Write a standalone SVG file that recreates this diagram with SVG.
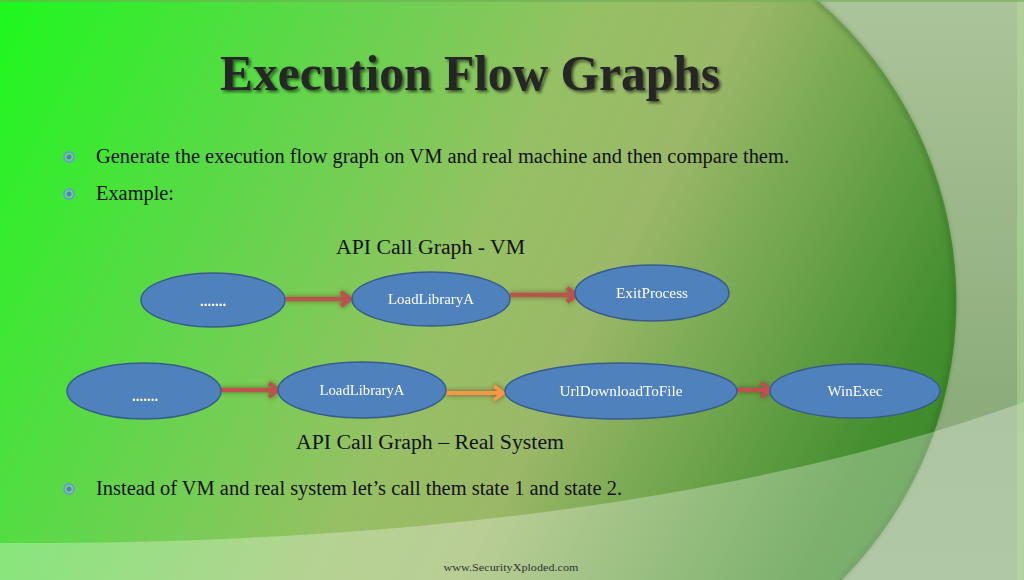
<svg xmlns="http://www.w3.org/2000/svg" width="1024" height="580" viewBox="0 0 1024 580">
  <defs>
    <linearGradient id="bg" gradientUnits="userSpaceOnUse" x1="0" y1="0" x2="1000" y2="500">
      <stop offset="0" stop-color="#1ef81e"/>
      <stop offset="0.25" stop-color="#5cd848"/>
      <stop offset="0.48" stop-color="#96c064"/>
      <stop offset="0.6" stop-color="#9bb868"/>
      <stop offset="0.74" stop-color="#6ea44c"/>
      <stop offset="0.88" stop-color="#438e2e"/>
      <stop offset="1" stop-color="#3a8628"/>
    </linearGradient>
    <linearGradient id="outside" gradientUnits="userSpaceOnUse" x1="0" y1="0" x2="0" y2="580">
      <stop offset="0" stop-color="#acc49a"/>
      <stop offset="0.7" stop-color="#8cad7b"/>
      <stop offset="1" stop-color="#8fb07e"/>
    </linearGradient>
    <filter id="soft" x="-20%" y="-20%" width="140%" height="140%">
      <feGaussianBlur stdDeviation="2"/>
    </filter>
    <filter id="tshadow" x="-5%" y="-20%" width="110%" height="140%">
      <feGaussianBlur in="SourceAlpha" stdDeviation="1.5"/>
      <feOffset dx="2" dy="2" result="b"/>
      <feFlood flood-color="#000" flood-opacity="0.6"/>
      <feComposite in2="b" operator="in"/>
      <feMerge><feMergeNode/><feMergeNode in="SourceGraphic"/></feMerge>
    </filter>
    <marker id="headRed" markerUnits="userSpaceOnUse" markerWidth="16" markerHeight="20" refX="12" refY="10" orient="auto">
      <polyline points="3,3 12,10 3,17" fill="none" stroke="#c0504d" stroke-width="4" stroke-linejoin="miter"/>
    </marker>
    <marker id="headOrange" markerUnits="userSpaceOnUse" markerWidth="16" markerHeight="20" refX="12" refY="10" orient="auto">
      <polyline points="3,3 12,10 3,17" fill="none" stroke="#f79646" stroke-width="4" stroke-linejoin="miter"/>
    </marker>
    <marker id="headShadow" markerUnits="userSpaceOnUse" markerWidth="16" markerHeight="20" refX="12" refY="10" orient="auto">
      <polyline points="3,3 12,10 3,17" fill="none" stroke="#5a4a20" stroke-width="6"/>
    </marker>
    <style>
      .body { font-family: "Liberation Serif", "Times New Roman", serif; fill: #111; }
      .node ellipse { fill: #4f81bd; stroke: #385d8a; stroke-width: 1.5; }
      .node text { font-family: "Liberation Serif", "DejaVu Serif", serif; fill: #fff; font-size: 14px; text-anchor: middle; }
      .shaft { fill: none; stroke-width: 4; }
      .shadow { fill: none; stroke: #5a4a20; stroke-width: 6; opacity: 0.55; }
      .bullet-ring { fill: #a9c8e8; fill-opacity: 0.35; stroke: #6a9bd0; stroke-width: 1.8; }
      .bullet-dot { fill: #4f81bd; }
    </style>
  </defs>

  <!-- background -->
  <rect x="0" y="0" width="1024" height="580" fill="url(#bg)"/>
  <!-- region outside the big arc (right side) -->
  <path d="M817,0 A396,396 0 0 1 842,580 L1024,580 L1024,0 Z" fill="url(#outside)"/>
  <!-- arc edge shadow -->
  <path d="M817,0 A396,396 0 0 1 842,580" fill="none" stroke="#2f5a20" stroke-width="4" opacity="0.35" filter="url(#soft)" transform="translate(-2,0)"/>
  <!-- bottom band -->
  <path d="M0,543 C400,545 750,500 1024,402 V580 H0 Z" fill="#ffffff" opacity="0.3"/>
  <!-- right strip and top line -->
  <rect x="1017" y="0" width="7" height="580" fill="#b8e0a0" opacity="0.45"/>
  <rect x="0" y="0" width="1024" height="2" fill="#6fae55" opacity="0.6"/>

  <!-- title -->
  <text x="220" y="90" class="body" font-size="50" font-weight="bold" textLength="500" lengthAdjust="spacingAndGlyphs" filter="url(#tshadow)" style="fill:#262626">Execution Flow Graphs</text>

  <!-- bullets -->
  <g id="bullet1">
    <circle cx="69" cy="157" r="5" class="bullet-ring"/>
    <circle cx="69" cy="157" r="2.5" class="bullet-dot"/>
    <text x="96" y="163" class="body" font-size="20" textLength="693" lengthAdjust="spacingAndGlyphs">Generate the execution flow graph on VM and real machine and then compare them.</text>
  </g>
  <g id="bullet2">
    <circle cx="69" cy="194" r="5" class="bullet-ring"/>
    <circle cx="69" cy="194" r="2.5" class="bullet-dot"/>
    <text x="96" y="200" class="body" font-size="20" textLength="78" lengthAdjust="spacingAndGlyphs">Example:</text>
  </g>
  <text x="336" y="254" class="body" font-size="20" textLength="189" lengthAdjust="spacingAndGlyphs">API Call Graph - VM</text>
  <text x="296" y="449" class="body" font-size="20" textLength="268" lengthAdjust="spacingAndGlyphs">API Call Graph – Real System</text>
  <g id="bullet3">
    <circle cx="69" cy="489" r="5" class="bullet-ring"/>
    <circle cx="69" cy="489" r="2.5" class="bullet-dot"/>
    <text x="96" y="495" class="body" font-size="20" textLength="526" lengthAdjust="spacingAndGlyphs">Instead of VM and real system let’s call them state 1 and state 2.</text>
  </g>
  <text x="511" y="571" class="body" font-size="11" text-anchor="middle" style="fill:#333" textLength="135" lengthAdjust="spacingAndGlyphs">www.SecurityXploded.com</text>

  <!-- connectors -->
  <g id="connectors">
    <g filter="url(#soft)">
      <line x1="285" y1="299" x2="350" y2="299" class="shadow" marker-end="url(#headShadow)"/>
      <line x1="510" y1="295" x2="576" y2="295" class="shadow" marker-end="url(#headShadow)"/>
      <line x1="220" y1="390" x2="278" y2="390" class="shadow" marker-end="url(#headShadow)"/>
      <line x1="446" y1="393" x2="503" y2="393" class="shadow" marker-end="url(#headShadow)"/>
      <line x1="737" y1="390" x2="770" y2="390" class="shadow" marker-end="url(#headShadow)"/>
    </g>
    <line x1="285" y1="299" x2="350" y2="299" class="shaft" stroke="#c0504d" marker-end="url(#headRed)"/>
    <line x1="510" y1="295" x2="576" y2="295" class="shaft" stroke="#c0504d" marker-end="url(#headRed)"/>
    <line x1="220" y1="390" x2="278" y2="390" class="shaft" stroke="#c0504d" marker-end="url(#headRed)"/>
    <line x1="446" y1="393" x2="503" y2="393" class="shaft" stroke="#f79646" marker-end="url(#headOrange)"/>
    <line x1="737" y1="390" x2="770" y2="390" class="shaft" stroke="#c0504d" marker-end="url(#headRed)"/>
  </g>

  <!-- nodes row 1 (VM) -->
  <g id="vm-start" class="node">
    <ellipse cx="213" cy="300" rx="72" ry="27"/>
    <text x="213" y="306" font-weight="bold" style="font-size:15px">.......</text>
  </g>
  <g id="vm-loadlibrary" class="node">
    <ellipse cx="431" cy="299" rx="79" ry="27"/>
    <text x="431" y="304" textLength="86" lengthAdjust="spacingAndGlyphs">LoadLibraryA</text>
  </g>
  <g id="vm-exitprocess" class="node">
    <ellipse cx="652" cy="293" rx="77" ry="28"/>
    <text x="652" y="298" textLength="72" lengthAdjust="spacingAndGlyphs">ExitProcess</text>
  </g>

  <!-- nodes row 2 (real system) -->
  <g id="real-start" class="node">
    <ellipse cx="144" cy="391" rx="77" ry="28"/>
    <text x="145" y="401" font-weight="bold" style="font-size:15px">.......</text>
  </g>
  <g id="real-loadlibrary" class="node">
    <ellipse cx="362" cy="390" rx="84" ry="28"/>
    <text x="362" y="395" textLength="85" lengthAdjust="spacingAndGlyphs">LoadLibraryA</text>
  </g>
  <g id="real-urldownload" class="node">
    <ellipse cx="621" cy="391" rx="116" ry="28"/>
    <text x="621" y="396" textLength="123" lengthAdjust="spacingAndGlyphs">UrlDownloadToFile</text>
  </g>
  <g id="real-winexec" class="node">
    <ellipse cx="855" cy="391" rx="85" ry="27"/>
    <text x="855" y="396" textLength="55" lengthAdjust="spacingAndGlyphs">WinExec</text>
  </g>
</svg>
